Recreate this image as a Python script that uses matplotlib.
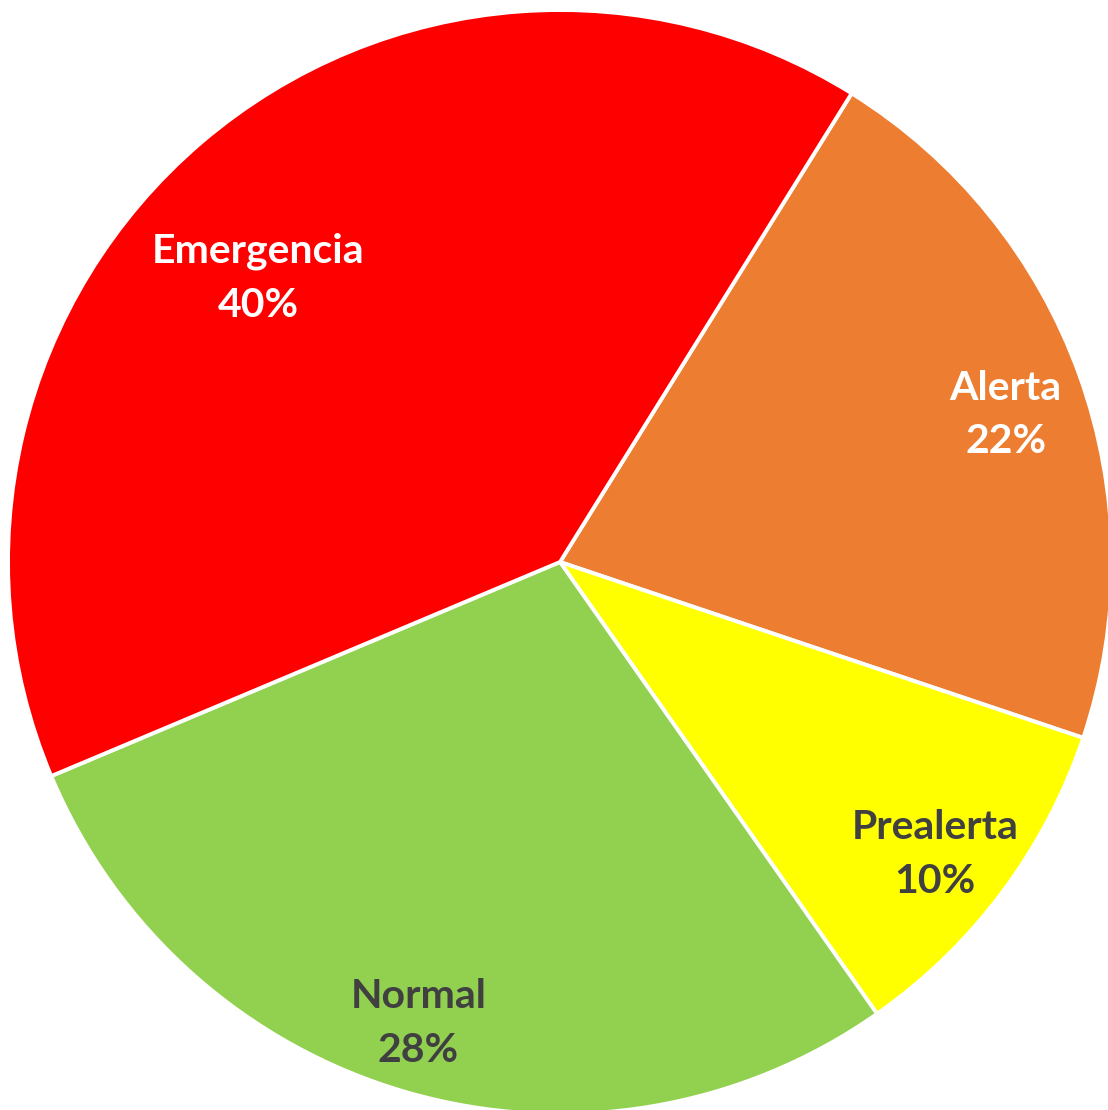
import numpy as np
import matplotlib
matplotlib.use("Agg")
import matplotlib.pyplot as plt

# Data (clockwise from the Emergencia/Alerta boundary)
categories = ["Alerta", "Prealerta", "Normal", "Emergencia"]
values = [21.3, 10.1, 28.4, 40.2]
pct_labels = ["22%", "10%", "28%", "40%"]

colors = ["#ED7D31", "#FFFF00", "#92D050", "#FF0000"]
text_colors = ["white", "#404040", "#404040", "white"]
label_radius = [0.85, 0.862, 0.875, 0.75]
label_angle_shift = [-1.5, -1.2, -1.0, 6.3]

W, H = 1108, 1110
fig = plt.figure(figsize=(W / 100, H / 100), dpi=100)
cx, cy, R = 560, 562, 552
ax = fig.add_axes([(cx - R) / W, (H - cy - R) / H, 2 * R / W, 2 * R / H])

wedges, _ = ax.pie(values, colors=colors, startangle=58.1, counterclock=False,
                   radius=1, wedgeprops=dict(edgecolor="white", linewidth=2.8),
                   frame=True)
ax.set_xlim(-1, 1)
ax.set_ylim(-1, 1)
ax.set_aspect("auto")
ax.axis("off")

for w, cat, pl, tc, rr, sh in zip(wedges, categories, pct_labels, text_colors,
                                   label_radius, label_angle_shift):
    mid = np.deg2rad((w.theta1 + w.theta2) / 2 + sh)
    ax.text(rr * np.cos(mid), rr * np.sin(mid), f"{cat}\n{pl}",
            ha="center", va="center", color=tc, fontsize=29.5,
            fontweight="bold", family=["Lato", "DejaVu Sans"],
            linespacing=1.55)

fig.savefig("out.png", dpi=100)
